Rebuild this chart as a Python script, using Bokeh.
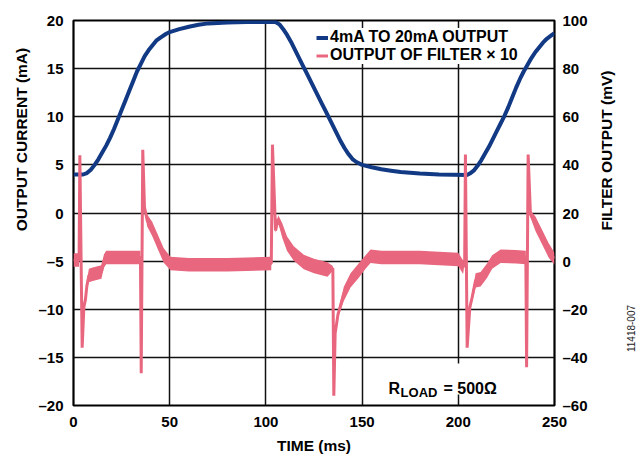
import math
from bokeh.plotting import figure
from bokeh.layouts import row
from bokeh.models import (Range1d, LinearAxis, FixedTicker, CustomJSTickFormatter,
                          Legend, LegendItem, Label, BoxAnnotation)
from bokeh.embed import file_html
from bokeh.resources import INLINE

FONT = "Liberation Sans"
BLUE = "#123a84"
PINK = "#e8677f"

# ---- tick values ----
time_ticks = [0, 50, 100, 150, 200, 250]
current_ticks = [-20, -15, -10, -5, 0, 5, 10, 15, 20]
filter_ticks = [-60, -40, -20, 0, 20, 40, 60, 80, 100]

# ---- 4mA to 20mA output (mA) ----
blue_t = [0, 5, 7, 9, 11, 13, 15, 17, 19, 21, 23, 25, 27, 29, 31, 33, 35, 37, 39, 41,
          43, 45, 48, 50, 55, 60, 65, 70, 80, 90, 105, 107, 109, 111, 113, 115, 117,
          119, 121, 123, 125, 127, 129, 131, 133, 135, 137, 139, 141, 143, 145, 147,
          150, 155, 160, 165, 170, 180, 190, 204.5, 206, 208, 210, 212, 214, 216, 218,
          220, 222, 224, 226, 228, 230, 232, 234, 236, 238, 240, 242, 244, 246, 248, 250]
blue_ma = [4.0, 4.0, 4.15, 4.5, 5.0, 5.6, 6.3, 7.0, 7.8, 8.7, 9.7, 10.7, 11.7, 12.7,
           13.7, 14.7, 15.5, 16.3, 16.9, 17.4, 17.9, 18.2, 18.6, 18.8, 19.1, 19.35,
           19.55, 19.7, 19.8, 19.85, 19.85, 19.6, 19.1, 18.5, 17.8, 17.0, 16.2, 15.4,
           14.6, 13.8, 13.0, 12.2, 11.4, 10.6, 9.8, 9.0, 8.2, 7.4, 6.7, 6.1, 5.6, 5.3,
           5.0, 4.75, 4.55, 4.4, 4.25, 4.1, 4.0, 3.95, 4.1, 4.4, 4.9, 5.5, 6.2, 6.9,
           7.7, 8.5, 9.3, 10.1, 11.0, 12.0, 13.0, 13.9, 14.7, 15.4, 16.1, 16.7, 17.2,
           17.7, 18.1, 18.4, 18.7]

# ---- output of filter x 10 (mV), with read-off noise half-width (mV) ----
pink_t = [0, 2.9, 3.3, 4.5, 5.4, 6.2, 7.0, 8.0, 10, 12, 14.5, 15.8, 17, 25, 34.8,
          35.2, 36.0, 36.9, 38.3, 40.9, 43.5, 46.9, 50.4, 60, 80, 102.8,
          103.4, 105.0, 106.4, 108.5, 111, 114.5, 119.7, 125, 132, 134.8,
          135.3, 136.0, 137.5, 140.5, 144, 148.3, 151.8, 154.4, 160, 180, 200, 202.5, 203.3,
          203.7, 204.6, 206, 207.2, 209, 211.6, 215, 217.6, 222, 230, 235.1,
          235.5, 236.3, 237.5, 240.1, 243.6, 247, 250]
pink_mv = [0.5, 0.5, 44, -36, -19, -16, -10, -6, -5.5, -5, -4.5, 0, 1.5, 1.5, 1.5,
           -46.6, 46.3, 22.4, 16.9, 13.4, 8.6, 2.3, -1, -1.5, -1.5, -1,
           48.4, 12.7, 17.6, 12.7, 7.2, 3.2, -0.4, -2, -3.5, -3,
           -55.9, -30, -22, -13.6, -8, -3.9, -0.4, 2, 1.5, 1.5, 0.7, -2.5, -1,
           44.3, -36, -19.2, -15, -8, -7.5, -3.9, -0.4, 2, 1.8, 1.5,
           -44.1, 44.3, 19.6, 15.5, 9.9, 4.4, 1.0]
pink_noise = [2.8, 2.8, 0, 0, 1, 1.5, 2.2, 2.8, 2.8, 2.8, 2.8, 2.8, 2.8, 2.8, 2.8,
              0, 0, 1, 2.5, 3, 3, 3, 2.8, 2.8, 2.8, 2.8,
              0, 1, 1.5, 3, 3, 3, 3, 3, 3, 1,
              0, 0.5, 1.5, 3, 3, 3, 2.8, 2.8, 2.8, 2.8, 2.8, 2.8, 0,
              0, 0, 1, 2, 3, 3, 3, 2.8, 2.8, 2.8, 2.8,
              0, 0, 1.5, 3, 3, 3, 2.5]
pink_lo = [m - n for m, n in zip(pink_mv, pink_noise)]
pink_hi = [m + n for m, n in zip(pink_mv, pink_noise)]

# ---------------- main chart ----------------
p = figure(width=561, height=456, output_backend="svg", toolbar_location=None,
           x_range=Range1d(0, 250), y_range=Range1d(-20, 20),
           min_border_left=40, min_border_right=40, min_border_top=20,
           min_border_bottom=51)
p.extra_y_ranges = {"mv": Range1d(-60, 100)}
right_axis = LinearAxis(y_range_name="mv")
p.add_layout(right_axis, "right")

fmt = CustomJSTickFormatter(code="return tick < 0 ? '\u2013' + Math.abs(tick) : '' + tick;")

for ax, ticks in ((p.xaxis[0], time_ticks), (p.yaxis[0], current_ticks), (right_axis, filter_ticks)):
    ax.ticker = FixedTicker(ticks=ticks)
    ax.formatter = fmt
    ax.axis_line_color = None
    ax.major_tick_line_color = None
    ax.minor_tick_line_color = None
    ax.major_tick_out = 0
    ax.major_tick_in = 0
    ax.minor_tick_out = 0
    ax.minor_tick_in = 0
    ax.major_label_text_font = FONT
    ax.major_label_text_font_style = "bold"
    ax.major_label_text_font_size = "15px"
    ax.major_label_text_color = "black"
p.xaxis[0].major_label_standoff = 11
p.yaxis[0].major_label_standoff = 10
right_axis.major_label_standoff = 8

xa = p.xaxis[0]
xa.axis_label = "TIME (ms)"
xa.axis_label_text_font = FONT
xa.axis_label_text_font_style = "bold"
xa.axis_label_text_font_size = "15.5px"
xa.axis_label_text_color = "black"
xa.axis_label_standoff = 7

p.xgrid.ticker = FixedTicker(ticks=time_ticks)
p.ygrid.ticker = FixedTicker(ticks=current_ticks)
for g in (p.xgrid[0], p.ygrid[0]):
    g.grid_line_color = "#111111"
    g.grid_line_width = 1.5
p.outline_line_color = "black"
p.outline_line_width = 2.2
p.background_fill_color = "white"
p.border_fill_color = "white"

blue_r = p.line(blue_t, blue_ma, line_width=4, color=BLUE)
p.varea(x=pink_t, y1=pink_lo, y2=pink_hi, fill_color=PINK, y_range_name="mv")
pink_r = p.line(pink_t, pink_mv, line_width=3, color=PINK, y_range_name="mv")

legend = Legend(items=[LegendItem(label="4mA TO 20mA OUTPUT", renderers=[blue_r]),
                       LegendItem(label="OUTPUT OF FILTER \u00d7 10", renderers=[pink_r])],
                location=(243, 341))
legend.label_text_font = FONT
legend.label_text_font_style = "bold"
legend.label_text_font_size = "16px"
legend.label_text_color = "black"
legend.glyph_width = 12
legend.glyph_height = 17
legend.label_height = 17
legend.label_standoff = 2
legend.spacing = 0
legend.padding = 3
legend.margin = 0
legend.border_line_color = None
legend.background_fill_alpha = 1
p.add_layout(legend)

p.add_layout(BoxAnnotation(left=161.6, right=221.4, bottom=-18.86, top=-15.64,
                           fill_color="white", fill_alpha=1, line_alpha=0))


def lab(fig, **kw):
    base = dict(text_font=FONT, text_font_style="bold", text_color="black")
    base.update(kw)
    fig.add_layout(Label(**base))


lab(p, x=163.7, y=-18.23, text="R", text_font_size="16px", text_baseline="alphabetic")
lab(p, x=170.0, y=-18.62, text="LOAD", text_font_size="13px", text_baseline="alphabetic")
lab(p, x=192.3, y=-18.23, text="= 500\u03a9", text_font_size="16px", text_baseline="alphabetic")


# ---------------- side strips holding the outer texts ----------------
def strip(w):
    f = figure(width=w, height=456, output_backend="svg", toolbar_location=None,
               x_range=Range1d(0, 1), y_range=Range1d(0, 1), min_border=0,
               x_axis_location=None, y_axis_location=None)
    f.outline_line_color = None
    f.xgrid.visible = False
    f.ygrid.visible = False
    f.background_fill_color = "white"
    f.border_fill_color = "white"
    return f


left_fig = strip(33)
lab(left_fig, x=21, y=266, x_units="screen", y_units="screen", text="OUTPUT CURRENT (mA)",
    text_font_size="15.5px", angle=math.pi / 2, text_align="center", text_baseline="middle")

right_fig = strip(49)
lab(right_fig, x=12, y=255, x_units="screen", y_units="screen", text="FILTER OUTPUT (mV)",
    text_font_size="15.5px", angle=math.pi / 2, text_align="center", text_baseline="middle")
lab(right_fig, x=36, y=77, x_units="screen", y_units="screen", text="11418-007",
    text_font_size="10px", text_font_style="normal", text_color="#222222",
    angle=math.pi / 2, text_align="center", text_baseline="middle")

layout = row(left_fig, p, right_fig)
open("out.html", "w").write(file_html(layout, INLINE))
